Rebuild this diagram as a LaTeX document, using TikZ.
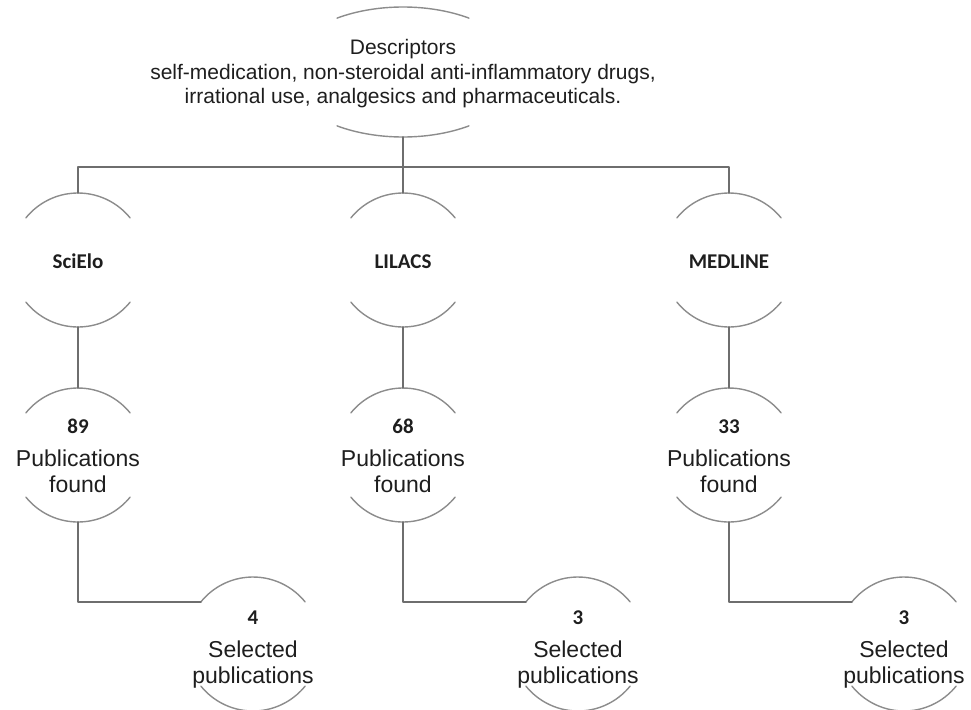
\documentclass[tikz,border=0pt]{standalone}
\usepackage{fontspec}
\setmainfont{Liberation Sans}
\newfontfamily\boldlabel{Carlito}
\usetikzlibrary{shapes.geometric}

\definecolor{arcgray}{RGB}{140,140,140}
\definecolor{linkgray}{RGB}{110,110,110}
\definecolor{inkgray}{RGB}{30,30,30}

\begin{document}
\begin{tikzpicture}[x=1pt, y=1pt, line cap=round, line join=round]
	\tikzset{
		ring/.style={circle, minimum size=134pt, inner sep=0pt, outer sep=0pt}, % only the top and bottom arcs get drawn
		arcline/.style={draw=arcgray, line width=1.4pt},
		link/.style={draw=linkgray, line width=1.6pt},
		body/.style={align=center, text=inkgray, font=\fontsize{23}{26}\selectfont},
		dbname/.style={text=inkgray, text height=14pt, text depth=0pt, yshift=-1.5pt, font=\boldlabel\bfseries\fontsize{21}{24}\selectfont}
	}
	\newcommand\countlabel[1]{{\boldlabel\bfseries\fontsize{21}{24}\selectfont\rule{0pt}{16pt}#1}}
	\useasboundingbox (0,0) rectangle (971,-709);
	% descriptors
	\node[ellipse, minimum width=236pt, minimum height=130pt, inner sep=0pt, outer sep=0pt,
		label={[body, yshift=-2pt, font=\fontsize{21}{24.5}\selectfont]center:Descriptors\\self-medication, non-steroidal anti-inflammatory drugs,\\irrational use, analgesics and pharmaceuticals.}] (desc) at (403,-72) {};
	\draw[arcline] (403,-72) ++(56:118 and 65) arc[start angle=56, end angle=124, x radius=118, y radius=65];
	\draw[arcline] (403,-72) ++(236:118 and 65) arc[start angle=236, end angle=304, x radius=118, y radius=65];
	% databases
	\node[ring, label={[dbname]center:SciElo}] (sci) at (78,-260) {};
	\node[ring, label={[dbname]center:LILACS}] (lil) at (403,-260) {};
	\node[ring, label={[dbname]center:MEDLINE}] (med) at (729,-260) {};
	% publications found
	\node[ring, label={[body]center:\countlabel{89}\\[7pt]Publications\\found}] (sfound) at (78,-455) {};
	\node[ring, label={[body]center:\countlabel{68}\\[7pt]Publications\\found}] (lfound) at (403,-455) {};
	\node[ring, label={[body]center:\countlabel{33}\\[7pt]Publications\\found}] (mfound) at (729,-455) {};
	% selected publications
	\node[ring, label={[body, yshift=-4pt]center:\countlabel{4}\\[7pt]Selected\\publications}] (ssel) at (253,-644) {};
	\node[ring, label={[body, yshift=-4pt]center:\countlabel{3}\\[7pt]Selected\\publications}] (lsel) at (578,-644) {};
	\node[ring, label={[body, yshift=-4pt]center:\countlabel{3}\\[7pt]Selected\\publications}] (msel) at (904,-644) {};
	\foreach \n in {sci, lil, med, sfound, lfound, mfound, ssel, lsel, msel} {
		\draw[arcline] (\n.39) arc[start angle=39, end angle=141, radius=67];
		\draw[arcline] (\n.219) arc[start angle=219, end angle=321, radius=67];
	}
	% connectors
	\coordinate (split) at (403,-167);
	\draw[link] (desc.south) -- (split);
	\draw[link] (sci.north) |- (split) -| (med.north);
	\draw[link] (split) -- (lil.north);
	\foreach \db/\found/\sel in {sci/sfound/ssel, lil/lfound/lsel, med/mfound/msel} {
		\draw[link] (\db.south) -- (\found.north);
		\draw[link] (\found.south) |- (\sel.141);
	}
\end{tikzpicture}
\end{document}
